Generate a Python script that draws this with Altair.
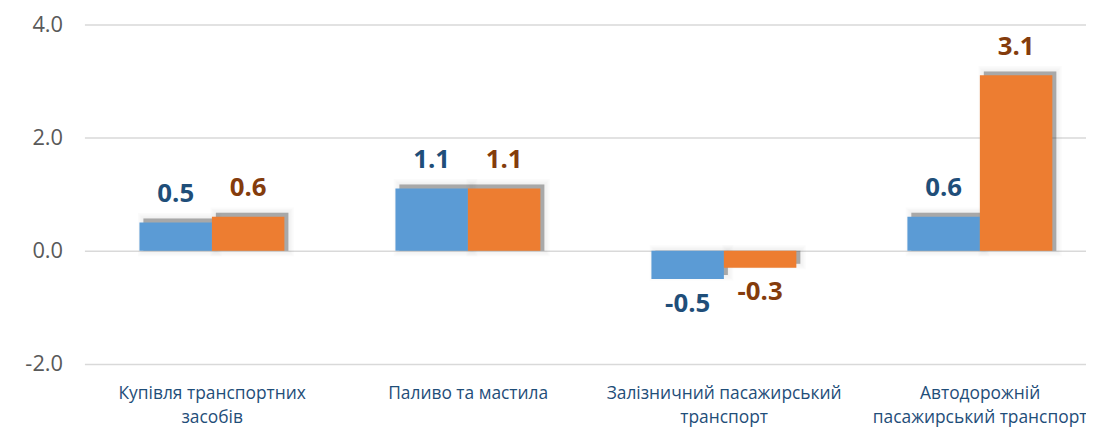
import altair as alt
import pandas as pd

categories = ["Купівля транспортних|засобів", "Паливо та мастила",
              "Залізничний пасажирський|транспорт", "Автодорожній|пасажирський транспорт"]
series = ["A", "B"]
values_a = [0.5, 1.1, -0.5, 0.6]
values_b = [0.6, 1.1, -0.3, 3.1]
bar_colors = ["#5B9BD5", "#ED7D31"]
label_colors = ["#1F4E79", "#843C0C"]

rows = []
for c, a, b in zip(categories, values_a, values_b):
    rows.append({"cat": c, "s": "A", "v": a})
    rows.append({"cat": c, "s": "B", "v": b})
df = pd.DataFrame(rows)

FONT = "Open Sans"
BW = 146
x_enc = alt.X("cat:N", sort=categories, title=None,
              scale=alt.Scale(range=[0, 1031], paddingInner=0.432, paddingOuter=0.215),
              axis=alt.Axis(labelExpr="split(datum.label, '|')", labelAngle=0,
                            labelColor="#1F4E79", labelFont=FONT, labelFontSize=17.5,
                            labelLineHeight=24, labelPadding=21, domain=False, ticks=False,
                            labelLimit=400))
y_enc = alt.Y("v:Q", title=None,
              scale=alt.Scale(domain=[-2, 4], nice=False),
              axis=alt.Axis(values=[-2, 0, 2, 4],
                            labelExpr="replace(format(datum.value, '.1f'), '\u2212', '-')",
                            labelFont=FONT,
                            labelFontSize=22, labelColor="#595959", labelPadding=22,
                            domain=False, ticks=False, gridColor="#D9D9D9", gridWidth=1.5))
color = alt.Color("s:N", sort=series, legend=None,
                  scale=alt.Scale(domain=series, range=bar_colors))

base = alt.Chart(df).encode(x=x_enc).transform_calculate(
    lbl="replace(format(datum.v, '.1f'), '\u2212', '-')")

def xo(shift=0):
    return alt.XOffset("s:N", sort=series, scale=alt.Scale(range=[shift, BW + shift]))

shadow_layers = [
    base.mark_bar(color="#303030", opacity=0.12, stroke="#303030", strokeOpacity=0.12,
                  strokeWidth=w, yOffset=-4).encode(xOffset=xo(4), y=y_enc, y2=alt.datum(0))
    for w in [2, 5, 8, 11]
]
shadow = alt.layer(*shadow_layers)

bars = base.mark_bar(strokeWidth=0).encode(xOffset=xo(0), y=y_enc, y2=alt.datum(0), color=color)
texts = []
for s, col in zip(series, label_colors):
    texts.append(base.transform_filter(f"datum.s == '{s}' && datum.v >= 0").mark_text(
        font=FONT, fontSize=26, fontWeight="bold", baseline="alphabetic", dy=-21, color=col
    ).encode(xOffset=xo(0), y="v:Q", text="lbl:N"))
    texts.append(base.transform_filter(f"datum.s == '{s}' && datum.v < 0").mark_text(
        font=FONT, fontSize=26, fontWeight="bold", baseline="top", dy=12, color=col
    ).encode(xOffset=xo(0), y="v:Q", text="lbl:N"))
front = alt.layer(bars, *texts)

chart = alt.layer(shadow, front).resolve_scale(xOffset="independent").properties(
    width=1009, height=342,
    autosize=alt.AutoSizeParams(type="none"),
    padding={"left": 77, "top": 15, "right": 0, "bottom": 66},
).configure_view(stroke=None)

chart.save("out.html", embed_options={"renderer": "svg", "actions": False})
